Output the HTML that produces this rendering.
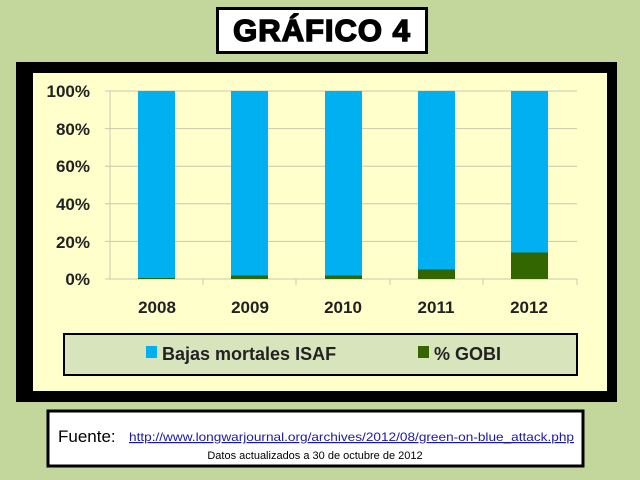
<!DOCTYPE html>
<html><head><meta charset="utf-8"><style>
body{margin:0;width:640px;height:480px;background:#c3d69b;position:relative;overflow:hidden;font-family:"Liberation Sans",sans-serif}
.abs{position:absolute}
</style></head><body>
<div class="abs" style="left:216px;top:7px;width:206px;height:41px;background:#fff;border:3px solid #000;text-align:center;font:900 31px/42px 'Liberation Sans',sans-serif;letter-spacing:1px;-webkit-text-stroke:1.5px #000">GRÁFICO 4</div>
<div class="abs" style="left:16px;top:62px;width:601px;height:340px;background:#000"></div>
<div class="abs" style="left:33px;top:73px;width:574px;height:318px;background:#ffffcc"></div>
<svg class="abs" style="left:0;top:0" width="640" height="480">
<g stroke="#c8c8b0" stroke-width="1">
<line x1="105" x2="577" y1="91" y2="91"/><line x1="105" x2="577" y1="128.6" y2="128.6"/><line x1="105" x2="577" y1="166.2" y2="166.2"/><line x1="105" x2="577" y1="203.8" y2="203.8"/><line x1="105" x2="577" y1="241.4" y2="241.4"/>
<line x1="110" x2="110" y1="91" y2="279"/>
<line x1="105" x2="577" y1="279" y2="279"/>
<line x1="203" x2="203" y1="279" y2="285"/><line x1="296" x2="296" y1="279" y2="285"/><line x1="390" x2="390" y1="279" y2="285"/><line x1="483" x2="483" y1="279" y2="285"/><line x1="577" x2="577" y1="279" y2="285"/>
</g>
<g fill="#00b0f0">
<rect x="138" y="91" width="37" height="188"/><rect x="231" y="91" width="37" height="188"/><rect x="325" y="91" width="37" height="188"/><rect x="418" y="91" width="37" height="188"/><rect x="511" y="91" width="37" height="188"/>
</g>
<g fill="#336600">
<rect x="138" y="278" width="37" height="1"/><rect x="231" y="275.5" width="37" height="3.5"/><rect x="325" y="275.5" width="37" height="3.5"/><rect x="418" y="269.5" width="37" height="9.5"/><rect x="511" y="252.5" width="37" height="26.5"/>
</g>
<g font-family="Liberation Sans, sans-serif" font-weight="bold" font-size="17" fill="#222" text-anchor="end">
<text x="90" y="97">100%</text><text x="90" y="135">80%</text><text x="90" y="172">60%</text><text x="90" y="210">40%</text><text x="90" y="248">20%</text><text x="90" y="285">0%</text>
</g>
<g font-family="Liberation Sans, sans-serif" font-weight="bold" font-size="17" fill="#222" text-anchor="middle">
<text x="157" y="313">2008</text><text x="250" y="313">2009</text><text x="343" y="313">2010</text><text x="436" y="313">2011</text><text x="529" y="313">2012</text>
</g>
<rect x="64" y="334" width="513" height="41" fill="#d8e4bc" stroke="#000" stroke-width="2"/>
<rect x="146" y="346" width="11" height="12" fill="#00b0f0"/>
<rect x="418" y="346" width="11" height="12" fill="#336600"/>
<g font-family="Liberation Sans, sans-serif" font-weight="bold" font-size="18" fill="#222">
<text x="162" y="360">Bajas mortales ISAF</text><text x="434" y="360">% GOBI</text>
</g>
<rect x="48" y="411" width="535" height="55" fill="#fff" stroke="#000" stroke-width="3"/>
<text x="58" y="442" font-family="Liberation Sans, sans-serif" font-size="17" fill="#000">Fuente:</text>
<text x="129" y="441" font-family="Liberation Sans Narrow, Liberation Sans, sans-serif" font-size="12" fill="#1a1aa6" text-decoration="underline" textLength="445" lengthAdjust="spacingAndGlyphs">http://www.longwarjournal.org/archives/2012/08/green-on-blue_attack.php</text>
<text x="315" y="459" text-anchor="middle" font-family="Liberation Sans, sans-serif" font-size="11" fill="#000">Datos actualizados a 30 de octubre de 2012</text>
</svg>
</body></html>
